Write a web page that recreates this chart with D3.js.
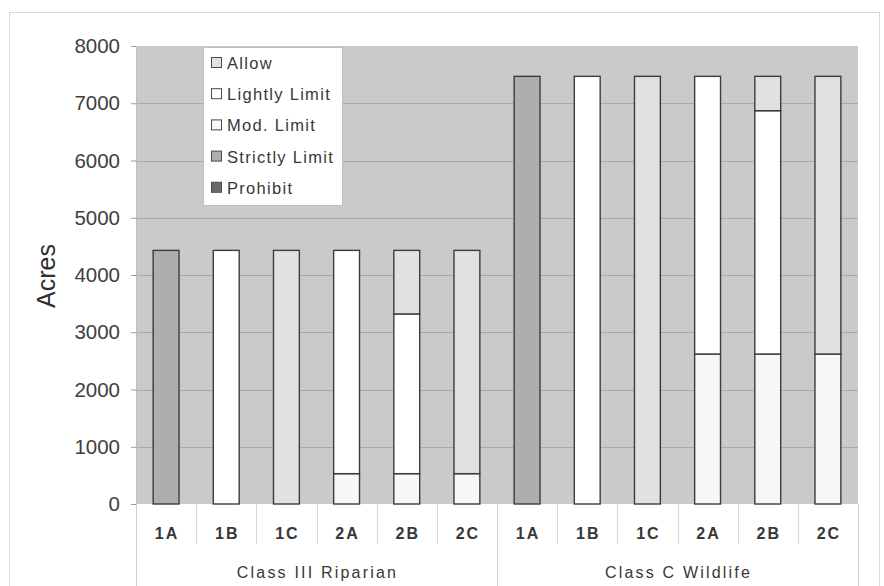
<!DOCTYPE html>
<html>
<head>
<meta charset="utf-8">
<script src="https://cdn.jsdelivr.net/npm/d3@7/dist/d3.min.js"></script>
<style>
  html, body { margin: 0; padding: 0; background: #fff; }
  svg { display: block; font-family: "Liberation Sans", Arial, sans-serif; }
</style>
</head>
<body>
<svg id="chart" width="884" height="586"></svg>
<script>
// Land-use restriction acreage by scenario
const groups = ["Class III Riparian", "Class C Wildlife"];
const scenarios = ["1A", "1B", "1C", "2A", "2B", "2C"];
const seriesNames = ["Prohibit", "Strictly Limit", "Mod. Limit", "Lightly Limit", "Allow"];
const legendOrder = ["Allow", "Lightly Limit", "Mod. Limit", "Strictly Limit", "Prohibit"];

// values per bar, Class III Riparian scenarios first, then Class C Wildlife
const prohibit      = [0, 0, 0, 0, 0, 0,       0, 0, 0, 0, 0, 0];
const strictlyLimit = [4430, 0, 0, 0, 0, 0,    7470, 0, 0, 0, 0, 0];
const modLimit      = [0, 0, 0, 530, 530, 530, 0, 0, 0, 2620, 2620, 2620];
const lightlyLimit  = [0, 4430, 0, 3900, 2790, 0, 0, 7470, 0, 4850, 4250, 0];
const allow         = [0, 0, 4430, 0, 1110, 3900, 0, 0, 7470, 0, 600, 4850];

const yTicks = [0, 1000, 2000, 3000, 4000, 5000, 6000, 7000, 8000];

const colors = {
  "Prohibit": "#6a6a6a",
  "Strictly Limit": "#aeaeae",
  "Mod. Limit": "#f7f7f7",
  "Lightly Limit": "#ffffff",
  "Allow": "#e1e1e1"
};

const rows = [];
groups.forEach((g, gi) => scenarios.forEach((s, si) => {
  const i = gi * scenarios.length + si;
  rows.push({
    key: g + "|" + s, group: g, scenario: s,
    "Prohibit": prohibit[i],
    "Strictly Limit": strictlyLimit[i],
    "Mod. Limit": modLimit[i],
    "Lightly Limit": lightlyLimit[i],
    "Allow": allow[i]
  });
}));

const svg = d3.select("#chart");
const plot = { left: 136, right: 858, top: 46, bottom: 504 };

// outer chart frame
svg.append("rect")
  .attr("x", 9.5).attr("y", 12.5).attr("width", 870).attr("height", 600)
  .attr("fill", "none").attr("stroke", "#d9d9d9").attr("stroke-width", 1);

const x = d3.scaleBand()
  .domain(rows.map(d => d.key))
  .range([plot.left, plot.right])
  .paddingInner(0.57).paddingOuter(0.285);

const y = d3.scaleLinear().domain([0, 8000]).range([plot.bottom, plot.top]);

// plot background
svg.append("rect")
  .attr("x", plot.left).attr("y", plot.top)
  .attr("width", plot.right - plot.left).attr("height", plot.bottom - plot.top)
  .attr("fill", "#cacaca");

// gridlines
svg.append("g").selectAll("line")
  .data(yTicks.filter(t => t > 0 && t < 8000))
  .join("line")
  .attr("x1", plot.left).attr("x2", plot.right)
  .attr("y1", d => Math.round(y(d)) + 0.5).attr("y2", d => Math.round(y(d)) + 0.5)
  .attr("stroke", "#a9a9a9").attr("stroke-width", 1);

// y axis
const yAxis = svg.append("g")
  .attr("transform", `translate(${plot.left},0)`)
  .call(d3.axisLeft(y).tickValues(yTicks).tickSize(5).tickPadding(11).tickFormat(d3.format("d")));
yAxis.select(".domain").attr("stroke", "#bdbdbd");
yAxis.selectAll(".tick line").attr("stroke", "#9a9a9a");
yAxis.selectAll(".tick text")
  .attr("fill", "#404040").style("font-size", "20.5px");

svg.append("text")
  .attr("transform", "translate(55,276) rotate(-90)")
  .attr("text-anchor", "middle")
  .attr("fill", "#303030")
  .style("font-size", "25px")
  .text("Acres");

// stacked bars
const stacked = d3.stack().keys(seriesNames)(rows);
svg.append("g").selectAll("g")
  .data(stacked)
  .join("g")
  .attr("fill", d => colors[d.key])
  .selectAll("rect")
  .data(d => d.filter(p => p[1] - p[0] > 0))
  .join("rect")
  .attr("x", d => x(d.data.key))
  .attr("width", x.bandwidth())
  .attr("y", d => y(d[1]))
  .attr("height", d => y(d[0]) - y(d[1]))
  .attr("stroke", "#3c3c3c").attr("stroke-width", 1.4);

// category axis
const step = x.step();
const catAxis = svg.append("g");
rows.forEach((r, i) => {
  const cx = x(r.key) + x.bandwidth() / 2;
  catAxis.append("text")
    .attr("x", cx + 1).attr("y", 539)
    .attr("text-anchor", "middle")
    .attr("fill", "#383838")
    .style("font-size", "16px").style("font-weight", "bold")
    .style("letter-spacing", "2px")
    .text(r.scenario);
  const left = cx - step / 2;
  if (i % scenarios.length !== 0) {
    catAxis.append("line")
      .attr("x1", Math.round(left) + 0.5).attr("x2", Math.round(left) + 0.5)
      .attr("y1", plot.bottom).attr("y2", 544)
      .attr("stroke", "#d6d6d6");
  }
});
groups.forEach((g, gi) => {
  const first = x(g + "|" + scenarios[0]);
  const last = x(g + "|" + scenarios[scenarios.length - 1]) + x.bandwidth();
  const left = first - (step - x.bandwidth()) / 2;
  const right = last + (step - x.bandwidth()) / 2;
  catAxis.append("text")
    .attr("x", (left + right) / 2 + 1).attr("y", 578)
    .attr("text-anchor", "middle")
    .attr("fill", "#383838")
    .style("font-size", "16px")
    .style("letter-spacing", "2.2px")
    .text(g);
  [left, right].forEach(px => {
    catAxis.append("line")
      .attr("x1", Math.round(px) + 0.5).attr("x2", Math.round(px) + 0.5)
      .attr("y1", plot.bottom).attr("y2", 586)
      .attr("stroke", "#d0d0d0");
  });
});

// legend
const legend = svg.append("g");
legend.append("rect")
  .attr("x", 203.5).attr("y", 47.5).attr("width", 139).attr("height", 158)
  .attr("fill", "#ffffff").attr("stroke", "#bfbfbf");
legendOrder.forEach((name, i) => {
  const cy = 63 + i * 31.2;
  legend.append("rect")
    .attr("x", 211.5).attr("y", cy - 5.5).attr("width", 10).attr("height", 10)
    .attr("fill", colors[name]).attr("stroke", "#4a4a4a").attr("stroke-width", 1);
  legend.append("text")
    .attr("x", 227).attr("y", cy + 6)
    .attr("fill", "#383838")
    .style("font-size", "16.5px")
    .style("letter-spacing", "1.3px")
    .text(name);
});
</script>
</body>
</html>
